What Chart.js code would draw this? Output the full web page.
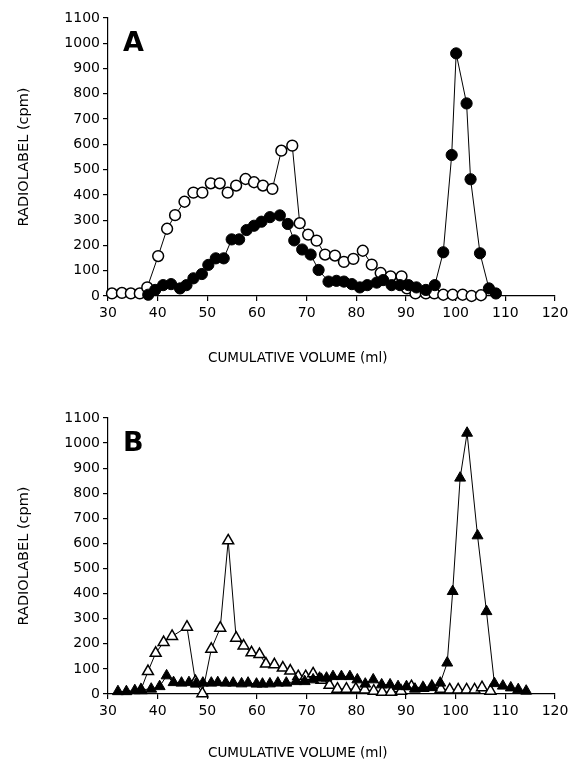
<!DOCTYPE html>
<html>
<head>
<meta charset="utf-8">
<script src="https://cdn.jsdelivr.net/npm/chart.js@4.4.1/dist/chart.umd.min.js"></script>
<style>
  html, body { margin: 0; padding: 0; background: #fff; }
  #wrap { position: relative; width: 579px; height: 759px; }
  canvas { position: absolute; left: 0; }
  #panelA { top: 0; }
  #panelB { top: 380px; }
</style>
</head>
<body>
<div id="wrap">
  <canvas id="panelA" width="579" height="380"></canvas>
  <canvas id="panelB" width="579" height="379"></canvas>
</div>
<script>
// Axis ticks (shared by both panels)
const xTicks = [30, 40, 50, 60, 70, 80, 90, 100, 110, 120];
const yTicks = [0, 100, 200, 300, 400, 500, 600, 700, 800, 900, 1000, 1100];
const xTitle = 'CUMULATIVE VOLUME (ml)';
const yTitle = 'RADIOLABEL (cpm)';

// Panel A, open circles: volume (ml) / cpm
const aOpenX = [30.8, 32.8, 34.6, 36.4, 37.9, 40.1, 41.9, 43.5, 45.4, 47.2, 49.0, 50.7, 52.5, 54.1,
  55.8, 57.7, 59.4, 61.2, 63.1, 64.9, 67.1, 68.6, 70.3, 72.0, 73.7, 75.7, 77.5, 79.4, 81.3, 83.1,
  84.9, 86.9, 89.1, 90.2, 91.9, 94.0, 95.7, 97.5, 99.4, 101.4, 103.2, 105.1];
const aOpenY = [10, 12, 10, 10, 34, 158, 266, 320, 373, 409, 409, 446, 446, 409,
  437, 463, 450, 437, 424, 575, 595, 288, 243, 219, 164, 160, 135, 147, 179, 124,
  91, 78, 78, 30, 10, 10, 10, 5, 5, 5, 0, 3];

// Panel A, filled circles
const aFilledX = [38.1, 39.5, 41.1, 42.7, 44.5, 45.8, 47.2, 48.9, 50.2, 51.7, 53.3, 54.9, 56.4,
  57.9, 59.4, 60.9, 62.6, 64.6, 66.2, 67.5, 69.1, 70.8, 72.4, 74.4, 76.0, 77.5, 79.1, 80.7,
  82.2, 84.1, 85.4, 87.1, 88.8, 90.5, 92.1, 94.0, 95.8, 97.5, 99.2, 100.1, 102.2, 103.0,
  104.9, 106.7, 108.1];
const aFilledY = [5, 24, 43, 47, 30, 43, 70, 87, 123, 149, 149, 224, 224,
  261, 278, 294, 312, 319, 285, 220, 184, 164, 103, 57, 60, 57, 47, 34,
  43, 53, 63, 43, 43, 43, 34, 24, 43, 173, 558, 960, 762, 462,
  169, 30, 10];

// Panel B, open triangles
const bOpenX = [36.6, 38.05, 39.6, 41.2, 42.9, 45.9, 47.6, 49.0, 50.8, 52.6, 54.2, 55.8, 57.3,
  58.9, 60.5, 61.8, 63.5, 65.2, 66.7, 68.3, 69.8, 71.3, 73.0, 74.6, 76.2, 78.0, 79.9, 81.7,
  83.5, 85.2, 87.0, 89.0, 91.1, 93.4, 95.2, 97.0, 98.8, 100.5, 102.2, 103.8, 105.3, 107.0];
const bOpenY = [15, 90, 163, 206, 230, 267, 50, 2, 179, 263, 611, 223, 192,
  165, 158, 120, 117, 104, 92, 70, 70, 81, 55, 35, 20, 20, 20, 17,
  12, 8, 8, 12, 30, 24, 30, 20, 17, 17, 17, 17, 26, 12];

// Panel B, filled triangles
const bFilledX = [32.0, 33.7, 35.4, 36.7, 38.7, 40.4, 41.8, 43.2, 44.8, 46.3, 47.7, 49.1, 50.8,
  52.1, 53.7, 55.2, 56.9, 58.2, 59.9, 61.1, 62.6, 64.2, 65.9, 67.9, 69.6, 71.3, 72.6, 74.0,
  75.3, 77.0, 78.7, 80.2, 81.8, 83.4, 85.1, 86.8, 88.4, 90.1, 91.8, 93.5, 95.2, 96.9, 98.3,
  99.4, 100.9, 102.3, 104.4, 106.2, 107.8, 109.5, 111.1, 112.6, 114.2];
const bFilledY = [10, 10, 14, 17, 20, 30, 73, 46, 44, 46, 40, 44, 44,
  46, 44, 44, 41, 44, 40, 40, 41, 44, 44, 50, 50, 57, 64, 64,
  70, 70, 70, 57, 40, 57, 37, 37, 30, 30, 20, 24, 26, 44, 124,
  409, 861, 1040, 631, 329, 42, 32, 25, 18, 12];

const FONT = 'DejaVu Sans, sans-serif';

function toPoints(xs, ys) {
  return xs.map((x, i) => ({ x: x, y: ys[i] }));
}

// panel letter + x-axis title (title sits left of the plot centre in the original)
const panelText = {
  id: 'panelText',
  afterDraw(chart, args, opts) {
    const { ctx, scales } = chart;
    ctx.save();
    ctx.fillStyle = '#000';
    ctx.font = 'bold 27px ' + FONT;
    ctx.textAlign = 'left';
    ctx.textBaseline = 'alphabetic';
    ctx.fillText(opts.letter, scales.x.getPixelForValue(33), scales.y.getPixelForValue(968));

    ctx.font = '13.5px ' + FONT;
    ctx.textAlign = 'center';
    ctx.textBaseline = 'middle';
    ctx.fillText(xTitle, scales.x.getPixelForValue(68.2), scales.x.bottom - opts.titleOffset);
    ctx.restore();
  }
};

function makePanel(canvasId, letter, datasets, plotTop, plotBottom, canvasHeight, titleOffset) {
  const ctx = document.getElementById(canvasId).getContext('2d');
  return new Chart(ctx, {
    type: 'line',
    data: { datasets: datasets },
    options: {
      responsive: false,
      animation: false,
      devicePixelRatio: 1,
      layout: { padding: { top: plotTop, right: 24, left: 0, bottom: 0 } },
      plugins: {
        legend: { display: false },
        tooltip: { enabled: false },
        panelText: { letter: letter, titleOffset: titleOffset },
      },
      scales: {
        x: {
          type: 'linear',
          min: xTicks[0],
          max: xTicks[xTicks.length - 1],
          afterBuildTicks: (scale) => { scale.ticks = xTicks.map(v => ({ value: v })); },
          afterFit: (scale) => { scale.height = canvasHeight - plotBottom; },
          ticks: {
            color: '#000', font: { family: FONT, size: 14 }, padding: 4, maxRotation: 0,
            callback: (v) => String(v),
          },
          grid: { drawOnChartArea: false, drawTicks: true, tickLength: 5, color: '#000', lineWidth: 1.2 },
          border: { color: '#000', width: 1.2 },
        },
        y: {
          type: 'linear',
          min: yTicks[0],
          max: yTicks[yTicks.length - 1],
          afterBuildTicks: (scale) => { scale.ticks = yTicks.map(v => ({ value: v })); },
          afterFit: (scale) => { scale.width = 108; },
          ticks: {
            color: '#000', font: { family: FONT, size: 14 }, padding: 3,
            callback: (v) => String(v),
          },
          grid: { drawOnChartArea: false, drawTicks: true, tickLength: 5, color: '#000', lineWidth: 1.2 },
          border: { color: '#000', width: 1.2 },
          title: {
            display: true, text: yTitle, color: '#000',
            font: { family: FONT, size: 14.5 },
            padding: { top: 16, bottom: 0 },
          },
        },
      },
    },
    plugins: [panelText],
  });
}

function series(xs, ys, style, filled, radius) {
  return {
    data: toPoints(xs, ys),
    showLine: true,
    borderColor: '#000',
    borderWidth: 1,
    tension: 0,
    pointStyle: style,
    pointRadius: radius,
    pointBorderWidth: filled ? 1 : 1.5,
    pointBorderColor: '#000',
    pointBackgroundColor: filled ? '#000' : '#fff',
    clip: false,
  };
}

makePanel('panelA', 'A', [
  series(aFilledX, aFilledY, 'circle', true, 5.6),
  series(aOpenX, aOpenY, 'circle', false, 5.4),
], 18, 296, 380, 21.5);

makePanel('panelB', 'B', [
  series(bFilledX, bFilledY, 'triangle', true, 6.3),
  series(bOpenX, bOpenY, 'triangle', false, 6.3),
], 38, 314, 379, 6);
</script>
</body>
</html>
